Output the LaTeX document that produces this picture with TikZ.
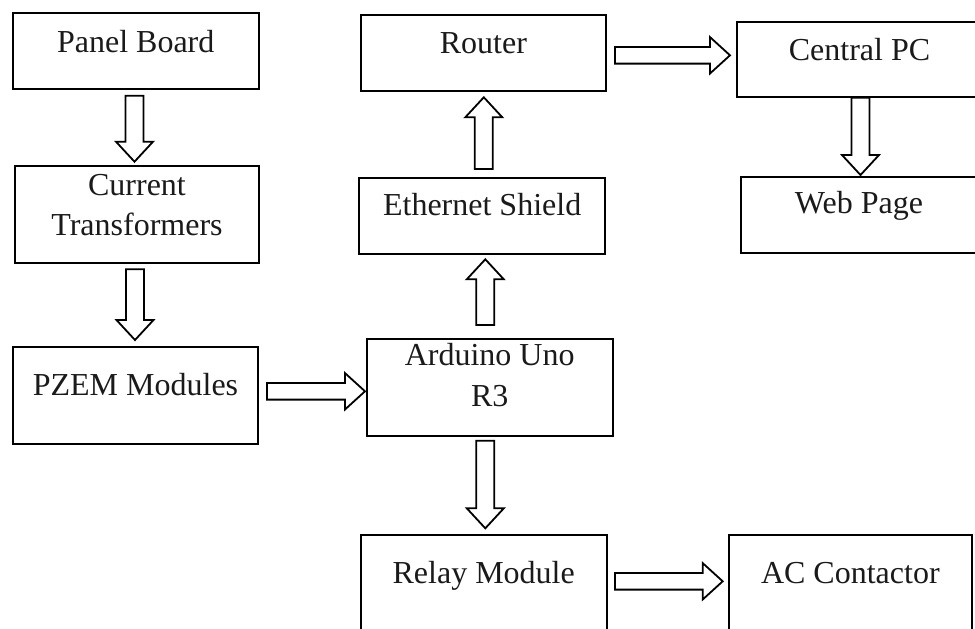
\documentclass[tikz,border=0pt]{standalone}
\usepackage{fontspec}
\setmainfont{Liberation Serif}
\usetikzlibrary{calc}
\definecolor{ink}{HTML}{1A1A1A}
\tikzset{
  box/.style={draw=black, line width=1pt, rectangle, inner sep=0pt, outer sep=0pt, anchor=north west, fill=white},
  lbl/.style={text=ink, font=\fontsize{16pt}{20pt}\selectfont, anchor=base, inner sep=0pt},
  blockarrow/.style={draw=black, line width=0.9pt, fill=white, line join=miter}
}
\newcommand\vblock[3]{%
  \pgfmathsetmacro\yb{#3-20*sign(#3-#2)}%
  \draw[blockarrow] (#1-9,#2) -- (#1-9,\yb) -- (#1-18.5,\yb) -- (#1,#3) -- (#1+18.5,\yb) -- (#1+9,\yb) -- (#1+9,#2) -- cycle;}
\newcommand\hblock[3]{%
  \pgfmathsetmacro\xb{#3-20*sign(#3-#2)}%
  \draw[blockarrow] (#2,#1-8.3) -- (\xb,#1-8.3) -- (\xb,#1-18.2) -- (#3,#1) -- (\xb,#1+18.2) -- (\xb,#1+8.3) -- (#2,#1+8.3) -- cycle;}
\begin{document}
\begin{tikzpicture}[x=0.5pt,y=-0.5pt]
\useasboundingbox (0,0) rectangle (975,628);
\clip (0,0) rectangle (975,628);
% boxes
\node[box, minimum width=123pt,   minimum height=38pt]   (pb) at (12.7,13.3)  {};
\node[box, minimum width=122.3pt, minimum height=48.5pt] (ct) at (14.7,165.7) {};
\node[box, minimum width=122.8pt, minimum height=48.35pt](pz) at (12.7,347.3) {};
\node[box, minimum width=122.65pt,minimum height=38pt]   (ro) at (360.7,15)   {};
\node[box, minimum width=122.85pt,minimum height=38.15pt](es) at (359.3,177.7){};
\node[box, minimum width=123pt,   minimum height=48.35pt](ar) at (366.7,339)  {};
\node[box, minimum width=123pt,   minimum height=55pt]   (re) at (360.7,535)  {};
\node[box, minimum width=121.35pt,minimum height=55pt]   (ac) at (729,535)    {};
\node[box, minimum width=125pt,   minimum height=37.5pt] (cp) at (736.7,21.7) {};
\node[box, minimum width=123pt,   minimum height=37.7pt] (wp) at (740.7,177.3){};
% labels
\node[lbl] (tpb)  at ($(pb.north)+(0,38.7)$) {Panel Board};
\node[lbl] (tct1) at ($(ct.north)+(0,29.3)$) {Current};
\node[lbl] (tct2) at ($(ct.north)+(0,69.3)$) {Transformers};
\node[lbl] (tpz)  at ($(pz.north)+(0,47.7)$) {PZEM Modules};
\node[lbl] (tro)  at ($(ro.north)+(0,38.3)$) {Router};
\node[lbl] (tes)  at ($(es.north)+(0,37.3)$) {Ethernet Shield};
\node[lbl] (tar1) at ($(ar.north)+(0,26.7)$) {Arduino Uno};
\node[lbl] (tar2) at ($(ar.north)+(0,67.7)$) {R3};
\node[lbl] (tre)  at ($(re.north)+(0,48.3)$) {Relay Module};
\node[lbl] (tac)  at ($(ac.north)+(0,48.3)$) {AC Contactor};
\node[lbl] (tcp)  at (859.5,60)   {Central PC};
\node[lbl] (twp)  at (859,213.3)  {Web Page};
% block arrows
\vblock{134.5}{95.7}{161.7}
\vblock{135}{269.3}{340}
\hblock{391.3}{267}{365}
\vblock{485.3}{325}{259.3}
\vblock{483.8}{169}{97.3}
\hblock{55.3}{615}{730}
\vblock{860.5}{97.7}{175}
\vblock{485.3}{440.7}{528.3}
\hblock{581.3}{615}{722.7}
\end{tikzpicture}
\end{document}
